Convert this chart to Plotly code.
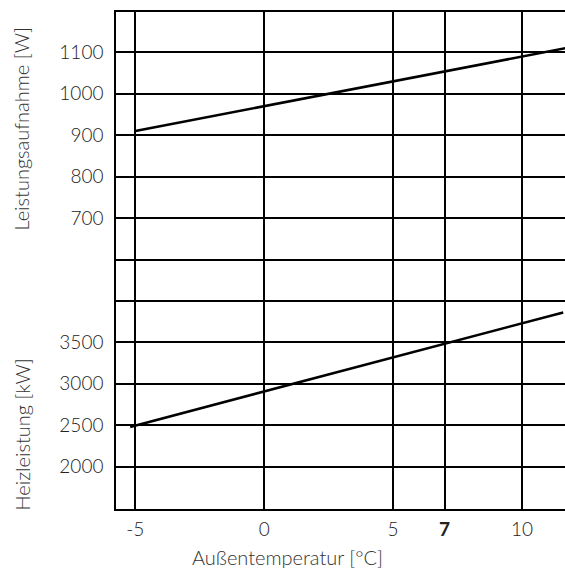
import plotly.graph_objects as go
from plotly.subplots import make_subplots

# Outdoor temperature ticks
temp_ticks = [-5, 0, 5, 7, 10]
temp_labels = ["-5", "0", "5", "<b>7</b>", "10"]

# Power consumption [W] vs outdoor temperature (straight characteristic)
power_temp = [-5.0, 11.7]
power_w = [910, 1110]

# Heating output [kW] vs outdoor temperature
heat_temp = [-5.2, 11.6]
heat_kw = [2480, 3860]

power_ticks = [600, 700, 800, 900, 1000, 1100]
power_ticktext = ["", "700", "800", "900", "1000", "1100"]
heat_ticks = [2000, 2500, 3000, 3500, 4000]
heat_ticktext = ["2000", "2500", "3000", "3500", ""]

FONT = "Lato"
INK = "#222222"
GRID = "#000000"

fig = make_subplots(rows=2, cols=1, shared_xaxes=True, vertical_spacing=0,
                    row_heights=[0.5392, 0.4608])

fig.add_trace(go.Scatter(x=power_temp, y=power_w, mode="lines",
                         line=dict(color="black", width=2.6),
                         showlegend=False, hoverinfo="skip"), row=1, col=1)
fig.add_trace(go.Scatter(x=heat_temp, y=heat_kw, mode="lines",
                         line=dict(color="black", width=2.6),
                         showlegend=False, hoverinfo="skip"), row=2, col=1)

tick_font = dict(family=FONT, size=19, color=INK, weight=300)

xcommon = dict(range=[-5.75, 11.67], tickmode="array", tickvals=temp_ticks,
               ticktext=temp_labels, showgrid=True, gridcolor=GRID, gridwidth=1.5,
               zeroline=False, showline=True, linecolor="black", linewidth=1.5,
               ticks="", tickfont=tick_font)

fig.update_xaxes(**xcommon)
fig.update_xaxes(side="top", showticklabels=False, row=1, col=1)
fig.update_xaxes(ticklabelstandoff=2, row=2, col=1)

ycommon = dict(showgrid=True, gridcolor=GRID, gridwidth=1.5, zeroline=False,
               showline=True, linecolor="black", linewidth=1.5, ticks="",
               ticklabelstandoff=7, tickmode="array", tickfont=tick_font)
fig.update_yaxes(**ycommon)
fig.update_yaxes(range=[551, 1197], tickvals=power_ticks, ticktext=power_ticktext,
                 row=1, col=1)
fig.update_yaxes(range=[1490, 4251], tickvals=heat_ticks, ticktext=heat_ticktext,
                 row=2, col=1)

title_font = dict(family=FONT, size=20, color="#333333", weight=300)
fig.add_annotation(text="Leistungsaufnahme [W]", xref="paper", yref="paper",
                   x=-0.2094, y=0.7656, textangle=-90, showarrow=False,
                   xanchor="center", yanchor="middle", font=title_font)
fig.add_annotation(text="Heizleistung [kW]", xref="paper", yref="paper",
                   x=-0.2094, y=0.150, textangle=-90, showarrow=False,
                   xanchor="center", yanchor="middle", font=title_font)
fig.add_annotation(text="Außentemperatur [°C]", xref="paper", yref="paper",
                   x=0.383, y=-0.0966, showarrow=False,
                   xanchor="center", yanchor="middle", font=title_font)

fig.update_layout(width=565, height=568, margin=dict(l=116, r=0, t=12, b=59),
                  paper_bgcolor="white", plot_bgcolor="white")

fig.write_html("out.html")
